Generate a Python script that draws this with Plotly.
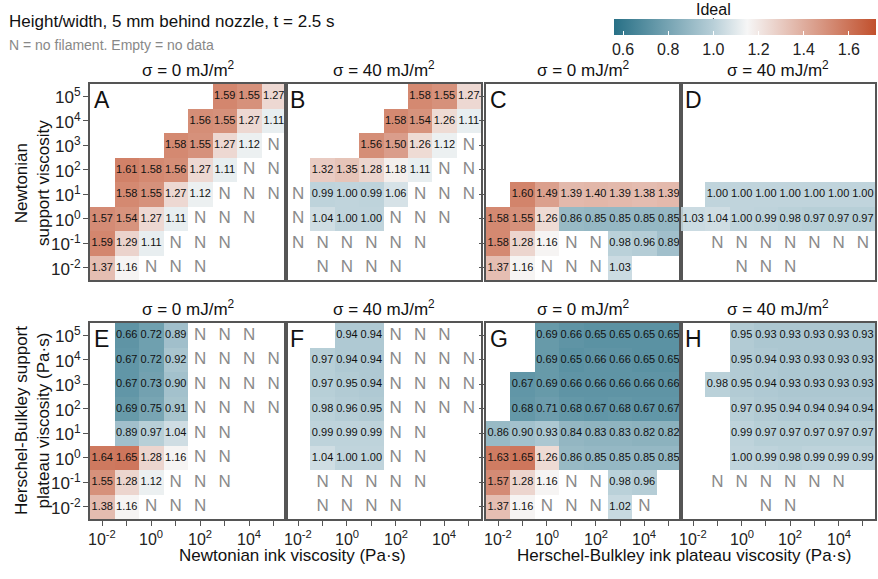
import plotly.graph_objects as go

W, H = 878, 579

_ = None
N = "N"

ink_log = [-2, -1, 0, 1, 2, 3, 4, 5]          # columns (ink viscosity, log10)
support_log = [5, 4, 3, 2, 1, 0, -1, -2]      # rows, top to bottom (support viscosity, log10)

x_label_vals = [-2, 0, 2, 4]
x_label_text = ["10<sup>-2</sup>", "10<sup>0</sup>", "10<sup>2</sup>", "10<sup>4</sup>"]
y_label_text = ["10<sup>5</sup>", "10<sup>4</sup>", "10<sup>3</sup>", "10<sup>2</sup>",
                "10<sup>1</sup>", "10<sup>0</sup>", "10<sup>-1</sup>", "10<sup>-2</sup>"]
cbar_ticks = [0.6, 0.8, 1.0, 1.2, 1.4, 1.6]

panel_A = [
    [_, _, _, _, _, 1.59, 1.55, 1.27],
    [_, _, _, _, 1.56, 1.55, 1.27, 1.11],
    [_, _, _, 1.58, 1.55, 1.27, 1.12, N],
    [_, 1.61, 1.58, 1.56, 1.27, 1.11, N, N],
    [_, 1.58, 1.55, 1.27, 1.12, N, N, N],
    [1.57, 1.54, 1.27, 1.11, N, N, N, _],
    [1.59, 1.29, 1.11, N, N, N, _, _],
    [1.37, 1.16, N, N, N, _, _, _],
]
panel_B = [
    [_, _, _, _, _, 1.58, 1.55, 1.27],
    [_, _, _, _, 1.58, 1.54, 1.26, 1.11],
    [_, _, _, 1.56, 1.50, 1.26, 1.12, N],
    [_, 1.32, 1.35, 1.28, 1.18, 1.11, N, N],
    [N, 0.99, 1.00, 0.99, 1.06, N, N, N],
    [N, 1.04, 1.00, 1.00, N, N, N, _],
    [N, N, N, N, N, N, _, _],
    [_, N, N, N, N, _, _, _],
]
panel_C = [
    [_, _, _, _, _, _, _, _],
    [_, _, _, _, _, _, _, _],
    [_, _, _, _, _, _, _, _],
    [_, _, _, _, _, _, _, _],
    [_, 1.60, 1.49, 1.39, 1.40, 1.39, 1.38, 1.39],
    [1.58, 1.55, 1.26, 0.86, 0.85, 0.85, 0.85, 0.85],
    [1.58, 1.28, 1.16, N, N, 0.98, 0.96, 0.89],
    [1.37, 1.16, N, N, N, 1.03, _, _],
]
panel_D = [
    [_, _, _, _, _, _, _, _],
    [_, _, _, _, _, _, _, _],
    [_, _, _, _, _, _, _, _],
    [_, _, _, _, _, _, _, _],
    [_, 1.00, 1.00, 1.00, 1.00, 1.00, 1.00, 1.00],
    [1.03, 1.04, 1.00, 0.99, 0.98, 0.97, 0.97, 0.97],
    [_, N, N, N, N, N, N, N],
    [_, _, N, N, N, _, _, _],
]
panel_E = [
    [_, 0.66, 0.72, 0.89, N, N, N, _],
    [_, 0.67, 0.72, 0.92, N, N, N, N],
    [_, 0.67, 0.73, 0.90, N, N, N, N],
    [_, 0.69, 0.75, 0.91, N, N, N, N],
    [_, 0.89, 0.97, 1.04, N, N, _, _],
    [1.64, 1.65, 1.28, 1.16, N, N, _, _],
    [1.55, 1.28, 1.12, N, N, N, _, _],
    [1.38, 1.16, N, N, N, _, _, _],
]
panel_F = [
    [_, _, 0.94, 0.94, N, N, N, _],
    [_, 0.97, 0.94, 0.94, N, N, N, N],
    [_, 0.97, 0.95, 0.94, N, N, N, N],
    [_, 0.98, 0.96, 0.95, N, N, N, N],
    [_, 0.99, 0.99, 0.99, N, N, _, _],
    [_, 1.04, 1.00, 1.00, N, N, _, _],
    [_, N, N, N, N, N, _, _],
    [_, N, N, N, N, _, _, _],
]
panel_G = [
    [_, _, 0.69, 0.66, 0.65, 0.65, 0.65, 0.65],
    [_, _, 0.69, 0.65, 0.66, 0.66, 0.65, 0.65],
    [_, 0.67, 0.69, 0.66, 0.66, 0.66, 0.66, 0.66],
    [_, 0.68, 0.71, 0.68, 0.67, 0.68, 0.67, 0.67],
    [0.86, 0.90, 0.93, 0.84, 0.83, 0.83, 0.82, 0.82],
    [1.63, 1.65, 1.26, 0.86, 0.85, 0.85, 0.85, 0.85],
    [1.57, 1.28, 1.16, N, N, 0.98, 0.96, _],
    [1.37, 1.16, N, N, N, 1.02, N, _],
]
panel_H = [
    [_, _, 0.95, 0.93, 0.93, 0.93, 0.93, 0.93],
    [_, _, 0.95, 0.94, 0.93, 0.93, 0.93, 0.93],
    [_, 0.98, 0.95, 0.94, 0.93, 0.93, 0.93, 0.93],
    [_, _, 0.97, 0.95, 0.94, 0.94, 0.94, 0.94],
    [_, _, 0.99, 0.97, 0.97, 0.97, 0.97, 0.97],
    [_, _, 1.00, 0.99, 0.98, 0.99, 0.99, 0.99],
    [_, N, N, N, N, N, N, _],
    [_, _, _, N, N, _, _, _],
]

panels = [("A", panel_A), ("B", panel_B), ("C", panel_C), ("D", panel_D),
          ("E", panel_E), ("F", panel_F), ("G", panel_G), ("H", panel_H)]
sigma_titles = ["σ = 0 mJ/m<sup>2</sup>", "σ = 40 mJ/m<sup>2</sup>"] * 4

FONT = "Liberation Sans, Arial, sans-serif"

ZMIN, ZMAX = 0.56, 1.72
colorscale = [
    [0.0, "rgb(40,112,134)"],
    [(1.0 - ZMIN) / (ZMAX - ZMIN), "rgb(184,207,216)"],
    [(1.15 - ZMIN) / (ZMAX - ZMIN), "rgb(246,246,246)"],
    [1.0, "rgb(193,80,45)"],
]

# panel geometry in pixels
col_x = [(90, 286), (286, 481), (486, 681), (681, 875)]
row_y = [(84, 280), (323, 519)]
CB_X0, CB_X1, CB_Y0, CB_Y1 = 614, 876, 19, 35   # colour bar box


def px_x(x):
    return x / W


def pap(y):
    return 1 - y / H


def xdom(a, b):
    return [px_x(a), px_x(b)]


def ydom(top, bot):
    return [pap(bot), pap(top)]


fig = go.Figure()
layout = {}
annotations = []

for i, (letter, data) in enumerate(panels):
    r, c = divmod(i, 4)
    k = i + 1
    xa = "x" if k == 1 else f"x{k}"
    ya = "y" if k == 1 else f"y{k}"
    z = [[v if isinstance(v, float) else None for v in row] for row in data]
    fig.add_trace(go.Heatmap(
        x=ink_log, y=support_log, z=z, zmin=ZMIN, zmax=ZMAX,
        colorscale=colorscale, opacity=0.88, showscale=(i == 0),
        hoverinfo="skip", xaxis=xa, yaxis=ya,
        colorbar=dict(
            orientation="h", lenmode="pixels", len=CB_X1 - CB_X0, thickness=CB_Y1 - CB_Y0,
            x=px_x(CB_X0), xanchor="left", y=pap(CB_Y0), yanchor="top", xpad=0, ypad=0,
            tickvals=cbar_ticks, ticktext=[f"{t:.1f}" for t in cbar_ticks],
            ticks="inside", ticklen=4, tickcolor="white",
            tickfont=dict(family=FONT, size=16, color="#222"), outlinewidth=0,
        ) if i == 0 else None,
    ))
    nx, ny, nt, sx, sy = [], [], [], [], []
    for ri, row in enumerate(data):
        for ci, v in enumerate(row):
            if isinstance(v, float):
                nx.append(ink_log[ci]); ny.append(support_log[ri]); nt.append(f"{v:.2f}")
            elif v == N:
                sx.append(ink_log[ci]); sy.append(support_log[ri])
    fig.add_trace(go.Scatter(x=nx, y=ny, text=nt, mode="text", hoverinfo="skip", cliponaxis=False,
                             textfont=dict(family=FONT, size=11, color="#111"),
                             xaxis=xa, yaxis=ya, showlegend=False))
    fig.add_trace(go.Scatter(x=sx, y=sy, text=["N"] * len(sx), mode="text", hoverinfo="skip",
                             cliponaxis=False, textfont=dict(family=FONT, size=17, color="#8a8a8a"),
                             xaxis=xa, yaxis=ya, showlegend=False))

    x0, x1 = col_x[c]
    y0, y1 = row_y[r]
    xkey = "xaxis" if k == 1 else f"xaxis{k}"
    ykey = "yaxis" if k == 1 else f"yaxis{k}"
    bottom = r == 1
    layout[xkey] = dict(
        domain=xdom(x0, x1), anchor=ya, range=[-2.5, 5.5], showgrid=False, zeroline=False,
        showline=True, mirror=True, linecolor="#555", linewidth=1.5,
        tickmode="array", tickvals=ink_log,
        ticks="outside" if bottom else "", ticklen=5, tickcolor="#555",
        showticklabels=False, fixedrange=True,
    )
    left = c == 0
    yt = c in (0, 2)
    layout[ykey] = dict(
        domain=ydom(y0, y1), anchor=xa, range=[-2.5, 5.5], showgrid=False, zeroline=False,
        showline=True, mirror=True, linecolor="#555", linewidth=1.5,
        tickmode="array", tickvals=support_log,
        ticks="outside" if yt else "", ticklen=5, tickcolor="#555",
        showticklabels=False, fixedrange=True,
    )
    # tick labels
    if bottom:
        for v, t in zip(x_label_vals, x_label_text):
            annotations.append(dict(text=t, x=v, xref=xa, y=pap(538), yref="paper",
                                    xanchor="center", yanchor="middle", showarrow=False,
                                    font=dict(family=FONT, size=16, color="#222")))
    if left:
        for v, t in zip(support_log, y_label_text):
            annotations.append(dict(text=t, x=px_x(x0 - 7), xref="paper", y=v, yref=ya,
                                    xanchor="right", yanchor="middle", showarrow=False,
                                    font=dict(family=FONT, size=17, color="#222")))
    # panel letter
    annotations.append(dict(text=letter, x=px_x(x0 + 2), y=pap(y0 + 1), xref="paper", yref="paper",
                            xanchor="left", yanchor="top", showarrow=False,
                            font=dict(family=FONT, size=23, color="#111")))
    # sigma title
    annotations.append(dict(text=sigma_titles[i], x=px_x((x0 + x1) / 2), y=pap(y0 - 15),
                            xref="paper", yref="paper", xanchor="center", yanchor="middle",
                            showarrow=False, font=dict(family=FONT, size=17, color="#111")))

ideal_x = CB_X0 + (1.0 - ZMIN) / (ZMAX - ZMIN) * (CB_X1 - CB_X0)

# titles and labels
annotations += [
    dict(text="Height/width, 5 mm behind nozzle, t = 2.5 s", x=px_x(7), y=pap(21), xref="paper", yref="paper",
         xanchor="left", yanchor="middle", showarrow=False, font=dict(family=FONT, size=17, color="#111")),
    dict(text="N = no filament. Empty = no data", x=px_x(7), y=pap(45), xref="paper", yref="paper",
         xanchor="left", yanchor="middle", showarrow=False, font=dict(family=FONT, size=14, color="#888")),
    dict(text="Ideal", x=px_x(ideal_x), y=pap(9), xref="paper", yref="paper", xanchor="center",
         yanchor="middle", showarrow=False, font=dict(family=FONT, size=16, color="#111")),
    dict(text="Newtonian ink viscosity (Pa·s)", x=px_x(292), y=pap(555), xref="paper", yref="paper",
         xanchor="center", yanchor="middle", showarrow=False, font=dict(family=FONT, size=17, color="#111")),
    dict(text="Herschel-Bulkley ink plateau viscosity (Pa·s)", x=px_x(684), y=pap(555), xref="paper",
         yref="paper", xanchor="center", yanchor="middle", showarrow=False,
         font=dict(family=FONT, size=17, color="#111")),
    dict(text="Newtonian<br>support viscosity", x=px_x(32), y=pap(183), xref="paper", yref="paper",
         xanchor="center", yanchor="middle", textangle=-90, showarrow=False,
         font=dict(family=FONT, size=17, color="#111")),
    dict(text="Herschel-Bulkley support<br>plateau viscosity (Pa·s)", x=px_x(32), y=pap(421), xref="paper",
         yref="paper", xanchor="center", yanchor="middle", textangle=-90, showarrow=False,
         font=dict(family=FONT, size=17, color="#111")),
]

shapes = [dict(type="line", xref="paper", yref="paper", x0=px_x(ideal_x), x1=px_x(ideal_x),
               y0=pap(CB_Y1), y1=pap(CB_Y0 - 1), line=dict(color="#444", width=1))]

fig.update_layout(
    width=W, height=H, margin=dict(l=0, r=0, t=0, b=0),
    paper_bgcolor="white", plot_bgcolor="white",
    showlegend=False, annotations=annotations, shapes=shapes,
    **layout,
)

# remove the browser's default 8 px page margin so the figure fills the window
fig.write_html("out.html", config={"displayModeBar": False},
               post_script="document.body.style.margin='0px';")
